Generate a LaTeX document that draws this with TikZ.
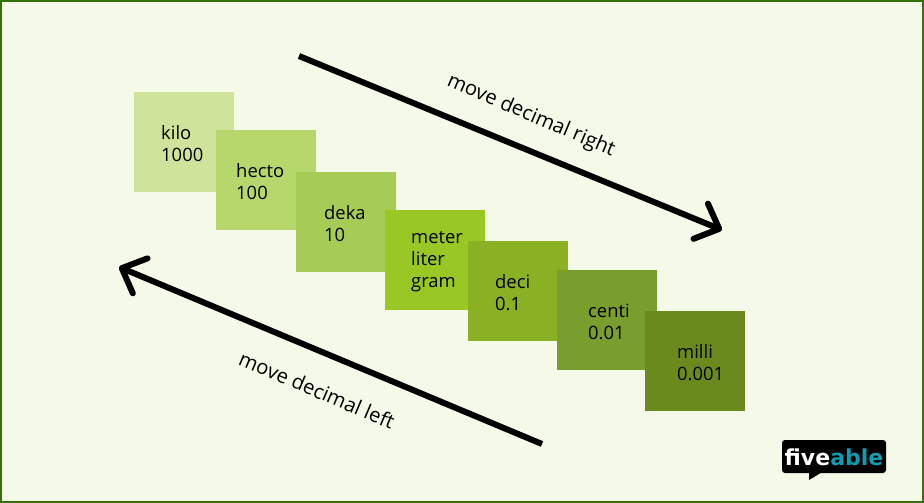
\documentclass[tikz,border=0pt]{standalone}
\usepackage{fontspec}
\setmainfont{Open Sans}
\newfontfamily\logofont{DejaVu Sans}
\usetikzlibrary{arrows.meta}
\definecolor{pagebg}{HTML}{F4F9E8}
\definecolor{pageline}{HTML}{35730A}
\definecolor{logoteal}{HTML}{0E9DB2}
\tikzset{
	unitbox/.style={minimum size=100pt,inner sep=0pt,outer sep=0pt},
	unitlabel/.style={anchor=west,align=left,inner sep=0pt,yshift=-2pt,font=\fontsize{18.4}{22}\selectfont},
	movelabel/.style={rotate=-23,inner sep=0pt,font=\fontsize{20.2}{22}\selectfont},
	bigarrow/.style={-{Straight Barb[round,length=20pt,width=38pt,line width=6pt]},line width=6pt,line join=round},
}
\begin{document}
\begin{tikzpicture}[x=1pt,y=-1pt]
		\useasboundingbox (0,0) rectangle (924,503);
		\draw[fill=pagebg,draw=pageline,line width=2pt] (1,1) rectangle (923,502);
		% the seven prefix squares
		\node [unitbox,fill={rgb,255:red,207;green,227;blue,155}] (kilo) at (184,142) {};
		\node [unitbox,fill={rgb,255:red,181;green,215;blue,107}] (hecto) at (266,180) {};
		\node [unitbox,fill={rgb,255:red,166;green,204;blue,85}] (deka) at (346,222) {};
		\node [unitbox,fill={rgb,255:red,153;green,200;blue,37}] (meter) at (435,260) {};
		\node [unitbox,fill={rgb,255:red,138;green,176;blue,35}] (deci) at (518,291) {};
		\node [unitbox,fill={rgb,255:red,122;green,158;blue,45}] (centi) at (607,320) {};
		\node [unitbox,fill={rgb,255:red,106;green,138;blue,30}] (milli) at (695,361) {};
		\node [unitlabel] (kilotext) at ([xshift=27pt]kilo.west) {kilo\\1000};
		\node [unitlabel] (hectotext) at ([xshift=20pt]hecto.west) {hecto\\100};
		\node [unitlabel] (dekatext) at ([xshift=28pt]deka.west) {deka\\10};
		\node [unitlabel] (metertext) at ([xshift=26pt]meter.west) {meter\\liter\\gram};
		\node [unitlabel] (decitext) at ([xshift=27pt]deci.west) {deci\\0.1};
		\node [unitlabel] (centitext) at ([xshift=31pt]centi.west) {centi\\0.01};
		\node [unitlabel] (millitext) at ([xshift=32pt]milli.west) {milli\\0.001};
		% the two long arrows
		\coordinate (righttail) at (299,56);
		\coordinate (righthead) at (722,230);
		\coordinate (lefttail) at (542,444);
		\coordinate (lefthead) at (119,267);
		\draw [bigarrow] (righttail) -- (righthead);
		\draw [bigarrow] (lefttail) -- (lefthead);
		\node [movelabel] (rightlabel) at (531,116) {move decimal right};
		\node [movelabel] (leftlabel) at (317,390) {move decimal left};
		% logo
		\fill [black,rounded corners=3pt] (782,440) rectangle (886,473);
		\fill [black] (809,471) -- (809,480) -- (824,471) -- cycle;
		\node [inner sep=0pt,font=\logofont\bfseries\fontsize{22}{22}\selectfont] (logo) at (834,457) {\textcolor{white}{five}\textcolor{logoteal}{able}};
\end{tikzpicture}
\end{document}
